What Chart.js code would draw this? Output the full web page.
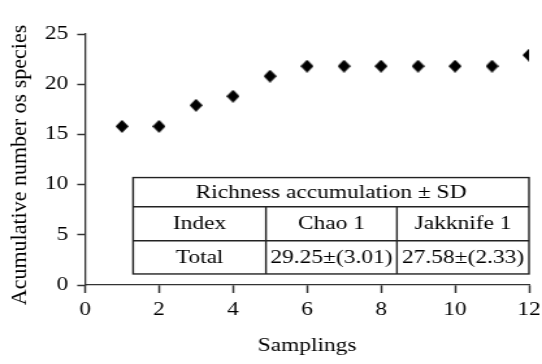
<!DOCTYPE html>
<html>
<head>
<meta charset="utf-8">
<script src="https://cdn.jsdelivr.net/npm/chart.js@4"></script>
<style>
  html, body { margin: 0; padding: 0; background: #fff; overflow: hidden; }
  /* the original figure is stretched sideways, so draw narrow and widen it */
  #wrap { width: 417px; height: 364px; transform: scaleX(1.2998); transform-origin: 0 0; }
</style>
</head>
<body>
<div id="wrap"><canvas id="chart" width="417" height="364"></canvas></div>
<script>
const STRETCH = 1.2998;

// samplings and cumulative species count
const samplings = [1, 2, 3, 4, 5, 6, 7, 8, 9, 10, 11, 12];
const species = [15.8, 15.8, 17.9, 18.8, 20.8, 21.8, 21.8, 21.8, 21.8, 21.8, 21.8, 22.9];
const xTicks = [0, 2, 4, 6, 8, 10, 12];
const yTicks = [0, 5, 10, 15, 20, 25];

const yTitle = 'Acumulative number os species';

// inset table
const tableTitle = 'Richness accumulation \u00b1 SD';
const tableHeader = ['Index', 'Chao 1', 'Jakknife 1'];
const tableRow = ['Total', '29.25\u00b1(3.01)', '27.58\u00b1(2.33)'];

const font = 'Liberation Serif, Times New Roman, serif';

// diamond marker, narrower than tall so it ends up square after the stretch
const diamond = document.createElement('canvas');
diamond.width = 10;
diamond.height = 13;
(function () {
    const c = diamond.getContext('2d');
    c.fillStyle = '#000';
    c.beginPath();
    c.moveTo(5, 0); c.lineTo(10, 6.5); c.lineTo(5, 13); c.lineTo(0, 6.5);
    c.closePath();
    c.fill();
})();

// draws the richness table inside the plot, placed on the axis scales
const tablePlugin = {
    id: 'richTable',
    afterDatasetsDraw(chart) {
        const { ctx, scales: { x, y } } = chart;
        const left = x.getPixelForValue(1.3), right = x.getPixelForValue(12);
        const c1 = x.getPixelForValue(4.89), c2 = x.getPixelForValue(8.43);
        const top = y.getPixelForValue(10.7), r1 = y.getPixelForValue(7.8);
        const r2 = y.getPixelForValue(4.4), bottom = y.getPixelForValue(1.1);

        ctx.save();
        ctx.fillStyle = '#fff';
        ctx.fillRect(left, top, right - left, bottom - top);
        ctx.strokeStyle = '#222';
        ctx.lineWidth = 1.4;
        ctx.strokeRect(left, top, right - left, bottom - top);
        ctx.beginPath();
        ctx.moveTo(left, r1); ctx.lineTo(right, r1);
        ctx.moveTo(left, r2); ctx.lineTo(right, r2);
        ctx.moveTo(c1, r1); ctx.lineTo(c1, bottom);
        ctx.moveTo(c2, r1); ctx.lineTo(c2, bottom);
        ctx.stroke();

        ctx.fillStyle = '#000';
        ctx.font = '18px ' + font;
        ctx.textAlign = 'center';
        ctx.textBaseline = 'middle';
        const cols = [[left, c1], [c1, c2], [c2, right]];
        ctx.fillText(tableTitle, (left + right) / 2, (top + r1) / 2 + 1);
        cols.forEach((c, i) => {
            ctx.fillText(tableHeader[i], (c[0] + c[1]) / 2, (r1 + r2) / 2 + 1);
            ctx.fillText(tableRow[i], (c[0] + c[1]) / 2, (r2 + bottom) / 2 + 1);
        });
        ctx.restore();
    }
};

// y title is not stretched in the original, so undo the stretch for it
const yTitlePlugin = {
    id: 'yTitle',
    afterDraw(chart) {
        const ctx = chart.ctx;
        ctx.save();
        ctx.translate(20 / STRETCH, 165);
        ctx.scale(1 / STRETCH, 1);
        ctx.rotate(-Math.PI / 2);
        ctx.fillStyle = '#000';
        ctx.font = '22px ' + font;
        ctx.textAlign = 'center';
        ctx.textBaseline = 'middle';
        ctx.fillText(yTitle, 0, 0);
        ctx.restore();
    }
};

new Chart(document.getElementById('chart'), {
    type: 'scatter',
    data: {
        datasets: [{
            label: 'Species',
            data: samplings.map((s, i) => ({ x: s, y: species[i] })),
            pointStyle: diamond,
            backgroundColor: '#000',
            borderColor: '#000'
        }]
    },
    options: {
        responsive: false,
        animation: false,
        layout: { padding: { top: 34, right: 10, left: 0, bottom: 0 } },
        plugins: { legend: { display: false }, tooltip: { enabled: false } },
        scales: {
            x: {
                type: 'linear', min: 0, max: 12,
                afterBuildTicks: s => { s.ticks = xTicks.map(v => ({ value: v })); },
                afterFit: s => { s.height = 79; s.paddingLeft = 0; s.paddingRight = 0; },
                grid: { drawOnChartArea: false, tickLength: 8, tickColor: '#333', tickWidth: 1.5 },
                border: { color: '#333', width: 1.3 },
                ticks: { color: '#000', padding: 6, font: { family: font, size: 18 } },
                title: { display: true, text: 'Samplings', color: '#000', padding: { top: 0, bottom: 7 },
                    font: { family: font, size: 18 } }
            },
            y: {
                type: 'linear', min: 0, max: 25,
                afterBuildTicks: s => { s.ticks = yTicks.map(v => ({ value: v })); },
                afterFit: s => { s.width = 65.4; },
                grid: { drawOnChartArea: false, tickLength: 6, tickColor: '#333', tickWidth: 1.5 },
                border: { color: '#333', width: 1.3 },
                ticks: { color: '#000', padding: 7, font: { family: font, size: 18 } },
                title: { display: false }
            }
        }
    },
    plugins: [tablePlugin, yTitlePlugin]
});
</script>
</body>
</html>
